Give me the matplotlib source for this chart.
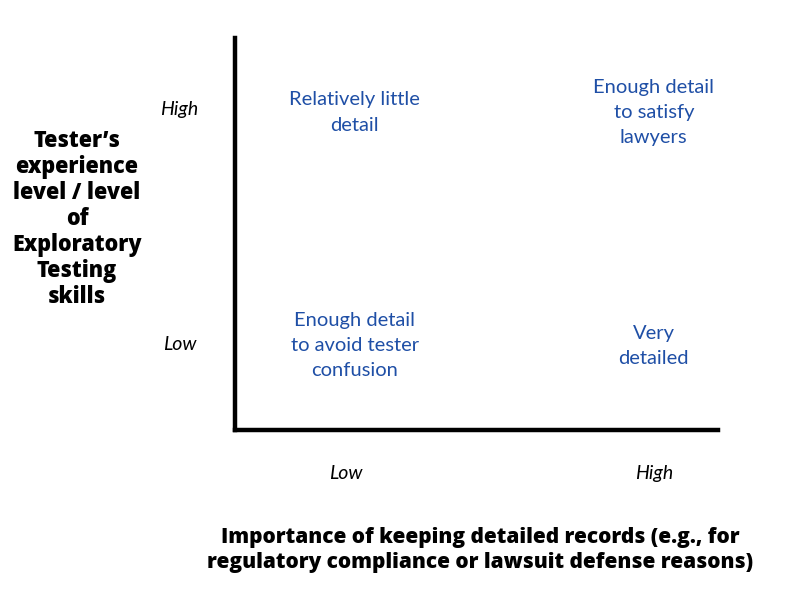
import matplotlib
matplotlib.use("Agg")
import matplotlib.pyplot as plt

# Data
x_categories = ["Low", "High"]
y_categories = ["Low", "High"]
quadrant_texts = {
    ("Low", "High"): "Relatively little\ndetail",
    ("High", "High"): "Enough detail\nto satisfy\nlawyers",
    ("Low", "Low"): "Enough detail\nto avoid tester\nconfusion",
    ("High", "Low"): "Very\ndetailed",
}
x_title = "Importance of keeping detailed records (e.g., for\nregulatory compliance or lawsuit defense reasons)"
y_title = "Tester\u2019s\nexperience\nlevel / level\nof\nExploratory\nTesting\nskills"

plt.rcParams['font.family'] = ['Lato', 'DejaVu Sans']

W, H = 801, 595
fig = plt.figure(figsize=(W / 100, H / 100), dpi=100)
ax = fig.add_axes([235 / W, (H - 430) / H, 483 / W, 392 / H])
ax.set_xlim(0, 1)
ax.set_ylim(0, 1)

xtick_pos = [0.229, 0.867]
ytick_pos = [0.222, 0.821]
text_x = {"Low": 0.248, "High": 0.867}
text_y = {"Low": 0.215, "High": 0.81}

for s in ["top", "right"]:
    ax.spines[s].set_visible(False)
for s in ["left", "bottom"]:
    ax.spines[s].set_linewidth(3.2)
    ax.spines[s].set_color("black")

ax.set_xticks(xtick_pos, x_categories)
ax.set_yticks(ytick_pos, y_categories)
ax.tick_params(axis="both", length=0, labelsize=14)
ax.tick_params(axis="x", pad=25)
ax.tick_params(axis="y", pad=40)
for lab in ax.get_xticklabels() + ax.get_yticklabels():
    lab.set_fontstyle("italic")
for lab in ax.get_yticklabels():
    lab.set_horizontalalignment("center")

for (xc, yc), txt in quadrant_texts.items():
    ax.text(text_x[xc], text_y[yc], txt, ha="center", va="center",
            color="#1F4FA6", fontsize=14.5, linespacing=1.58)

title_font = ['Open Sans', 'DejaVu Sans']
fig.text(77 / W, 1 - 219 / H, y_title, ha="center", va="center",
         fontsize=15.5, fontweight=800, family=title_font, linespacing=1.12)
fig.text(480 / W, 1 - 550 / H, x_title, ha="center", va="center",
         fontsize=15.0, fontweight=800, family=title_font, linespacing=1.2)

fig.savefig("out.png", dpi=100)
